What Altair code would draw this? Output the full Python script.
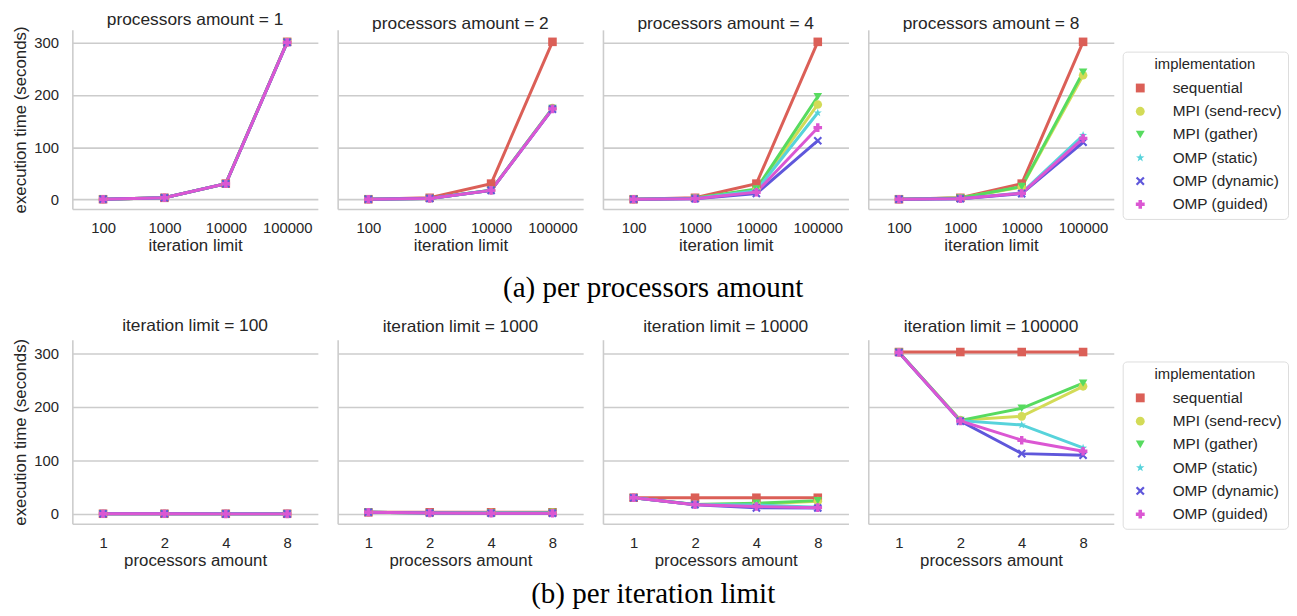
import altair as alt
import pandas as pd

implementations = ["sequential", "MPI (send-recv)", "MPI (gather)",
                   "OMP (static)", "OMP (dynamic)", "OMP (guided)"]
processors = [1, 2, 4, 8]
iterations = [100, 1000, 10000, 100000]

# execution time (seconds): one row per processors amount, columns = iteration limits
sequential = [[0.3, 3.0, 30.2, 302.0],
              [0.3, 3.0, 30.2, 302.0],
              [0.3, 3.0, 30.2, 302.0],
              [0.3, 3.0, 30.2, 302.0]]
mpi_send_recv = [[0.3, 3.0, 30.1, 301.5],
                 [0.2, 1.8, 17.6, 175.0],
                 [0.2, 2.0, 18.6, 182.0],
                 [0.3, 2.5, 23.8, 238.0]]
mpi_gather = [[0.3, 3.0, 30.1, 301.5],
              [0.2, 1.8, 17.5, 174.5],
              [0.2, 2.1, 20.0, 197.0],
              [0.3, 2.6, 24.8, 244.0]]
omp_static = [[0.3, 3.0, 30.0, 301.0],
              [0.2, 1.8, 17.4, 174.0],
              [0.2, 1.7, 16.8, 166.0],
              [0.1, 1.3, 12.5, 123.0]]
omp_dynamic = [[0.3, 3.0, 30.0, 301.0],
               [0.2, 1.7, 17.2, 173.0],
               [0.1, 1.2, 11.3, 112.5],
               [0.1, 1.1, 11.0, 109.5]]
omp_guided = [[0.3, 3.0, 30.0, 301.0],
              [0.2, 1.7, 17.3, 173.5],
              [0.1, 1.4, 13.8, 137.5],
              [0.1, 1.2, 11.7, 117.0]]

series = [sequential, mpi_send_recv, mpi_gather, omp_static, omp_dynamic, omp_guided]

colors = ["#db5f57", "#d3db57", "#57db5f", "#57d3db", "#5f57db", "#db57d3"]
STAR = ("M0,-1L0.235,-0.324L0.951,-0.309L0.380,0.124L0.588,0.809L0,0.4"
        "L-0.588,0.809L-0.380,0.124L-0.951,-0.309L-0.235,-0.324Z")
XSHAPE = ("M-1,-0.65L-0.65,-1L0,-0.35L0.65,-1L1,-0.65L0.35,0L1,0.65L0.65,1"
          "L0,0.35L-0.65,1L-1,0.65L-0.35,0Z")
shapes = ["square", "circle", "triangle-down", STAR, XSHAPE, "cross"]

rows = []
for impl, vals in zip(implementations, series):
    for pi, p in enumerate(processors):
        for ii, it in enumerate(iterations):
            rows.append({"implementation": impl, "processors": str(p),
                         "iterations": str(it), "time": vals[pi][ii]})
df = pd.DataFrame(rows)

W = 248
yscale = alt.Scale(domain=[-18.5, 325], nice=False, zero=False)


def panel(sub, xfield, xorder, xtitle, title, first, legendY, height, toffset):
    legend = alt.Legend(title="implementation", orient="none", legendX=1061, legendY=legendY)
    color = alt.Color("implementation:N", sort=implementations,
                      scale=alt.Scale(domain=implementations, range=colors), legend=legend)
    shape = alt.Shape("implementation:N", sort=implementations,
                      scale=alt.Scale(domain=implementations, range=shapes), legend=legend)
    if first:
        yaxis = alt.Axis(title="execution time (seconds)", values=[0, 100, 200, 300],
                         ticks=False, labelPadding=14, titlePadding=4)
    else:
        yaxis = alt.Axis(title=None, labels=False, ticks=False, values=[0, 100, 200, 300],
                         minExtent=0)
    base = alt.Chart(sub).encode(
        x=alt.X(f"{xfield}:O", sort=xorder, title=xtitle,
                scale=alt.Scale(domain=xorder, padding=0.5),
                axis=alt.Axis(labelAngle=0, ticks=False, grid=False, labelPadding=12,
                              titlePadding=2)),
        y=alt.Y("time:Q", scale=yscale, axis=yaxis),
        color=color,
        shape=shape,
    )
    line = base.mark_line(strokeWidth=3, point=alt.OverlayMarkDef(filled=True, size=75, opacity=1))
    return line.properties(width=W, height=height,
                           title=alt.TitleParams(title, offset=toffset))


top_panels = []
for i, p in enumerate(processors):
    sub = df[df["processors"] == str(p)]
    top_panels.append(panel(sub, "iterations", [str(v) for v in iterations],
                            "iteration limit", f"processors amount = {p}", i == 0,
                            22, 181, -3))
bottom_panels = []
for i, it in enumerate(iterations):
    sub = df[df["iterations"] == str(it)]
    bottom_panels.append(panel(sub, "processors", [str(v) for v in processors],
                               "processors amount", f"iteration limit = {it}", i == 0,
                               22, 186, 4))

cap_style = dict(orient="bottom", anchor="middle", font="Liberation Serif", fontSize=29.3,
                 fontWeight="normal", color="#000000", dx=3)
top = alt.hconcat(*top_panels, spacing=20,
                  title=alt.TitleParams("(a) per processors amount", offset=21, **cap_style))
bottom = alt.hconcat(*bottom_panels, spacing=20,
                     title=alt.TitleParams("(b) per iteration limit", offset=12, **cap_style))

chart = alt.vconcat(top, bottom, spacing=13).resolve_scale(
    color="independent", shape="independent"
).properties(
    padding={"left": 3, "top": 0, "right": 0, "bottom": 0}
).configure_view(stroke=None).configure_axis(
    domainColor="#cccccc", domainWidth=1.6, gridColor="#cccccc", gridWidth=1.6,
    labelColor="#262626", titleColor="#262626", labelFont="Liberation Sans",
    titleFont="Liberation Sans", labelFontSize=15, titleFontSize=17, titleFontWeight="normal"
).configure_title(
    font="Liberation Sans", fontSize=17.5, fontWeight="normal", color="#262626"
).configure_legend(
    strokeColor="#dddddd", cornerRadius=4, padding=6, fillColor="#ffffff",
    titleFont="Liberation Sans", titleFontSize=15, titleFontWeight="normal",
    titleColor="#262626", titleAnchor="middle", titlePadding=8,
    labelFont="Liberation Sans", labelFontSize=15.5, labelColor="#262626",
    symbolSize=80, symbolOffset=4, labelOffset=25, rowPadding=6.5, symbolStrokeWidth=0
)

chart.save("out.html", embed_options={"renderer": "svg", "actions": False})
